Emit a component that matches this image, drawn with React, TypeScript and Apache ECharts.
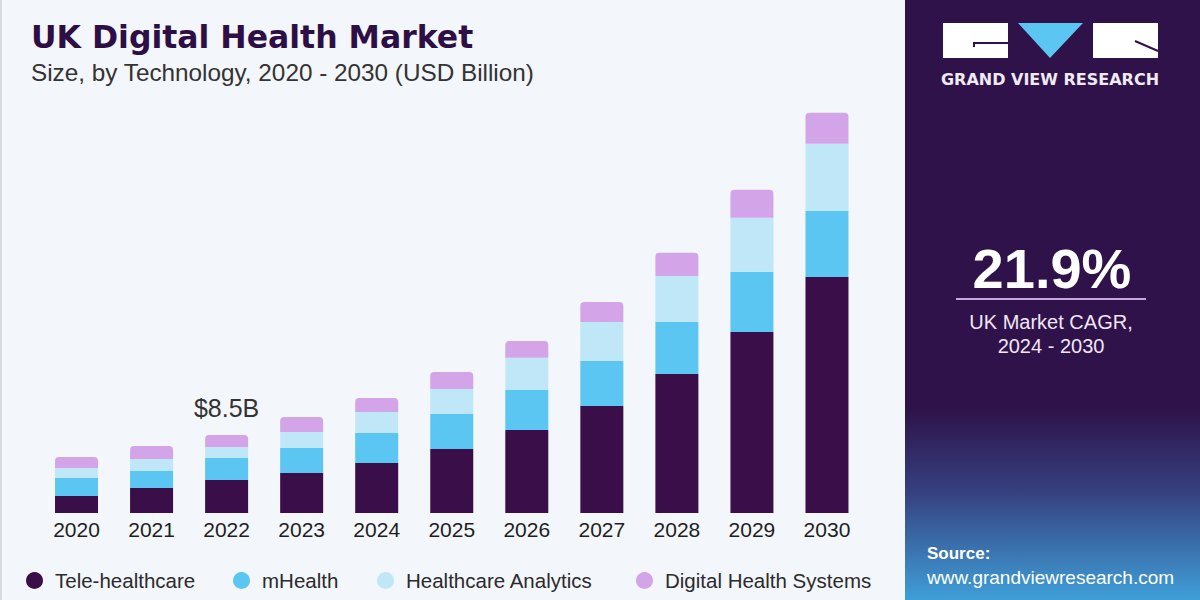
import React, { useEffect, useRef } from "react";
import * as echarts from "echarts";

const years = ["2020", "2021", "2022", "2023", "2024", "2025", "2026", "2027", "2028", "2029", "2030"];
const teleHealthcare = [1.85, 2.72, 3.6, 4.36, 5.45, 6.97, 9.05, 11.66, 15.15, 19.73, 25.72];
const mHealth = [1.96, 1.85, 2.4, 2.72, 3.27, 3.81, 4.36, 4.9, 5.67, 6.54, 7.19];
const healthcareAnalytics = [1.09, 1.31, 1.2, 1.74, 2.29, 2.72, 3.49, 4.25, 5.01, 5.88, 7.3];
const digitalHealthSystems = [1.2, 1.42, 1.31, 1.63, 1.53, 1.85, 1.85, 2.18, 2.51, 3.05, 3.38];
const seriesNames = ["Tele-healthcare", "mHealth", "Healthcare Analytics", "Digital Health Systems"];
const seriesColors = ["#3a0e48", "#5bc6f1", "#bfe7f8", "#d3a5e8"];
const annotatedIndex = 2;
const annotationText = "$8.5B";
const cagrValue = "21.9%";

const FONT = "'Liberation Sans', Arial, sans-serif";

export default function App() {
  const ref = useRef<HTMLDivElement>(null);
  useEffect(() => {
    if (!ref.current) return;
    const chart = echarts.init(ref.current, undefined, { renderer: "svg" });
    const allData = [teleHealthcare, mHealth, healthcareAnalytics, digitalHealthSystems];
    const series = allData.map((d, i) => ({
      name: seriesNames[i],
      type: "bar",
      stack: "total",
      barWidth: 43,
      itemStyle: {
        color: seriesColors[i],
        borderRadius: i === 3 ? [4, 4, 0, 0] : 0,
      },
      data: d.map((v, j) =>
        i === 3 && j === annotatedIndex
          ? {
              value: v,
              label: {
                show: true,
                position: "top",
                distance: 14,
                formatter: annotationText,
                fontSize: 25,
                color: "#333333",
                fontFamily: FONT,
              },
            }
          : v
      ),
    }));
    const legendLefts = [21, 228, 372, 631];
    const legends = seriesNames.map((n, i) => ({
      data: [n],
      left: legendLefts[i],
      top: 565,
      icon: "circle",
      itemWidth: 17,
      itemHeight: 17,
      textStyle: {
        fontSize: 20.5,
        color: "#2b2b2b",
        fontFamily: FONT,
        padding: [0, 0, 0, 7],
      },
    }));
    chart.setOption({
      animation: false,
      backgroundColor: "#f3f6fa",
      grid: { left: 39, right: 335.5, top: 54, bottom: 87 },
      legend: legends,
      xAxis: {
        type: "category",
        data: years,
        axisLine: { show: false },
        axisTick: { show: false },
        axisLabel: { fontSize: 21, color: "#1e1e1e", margin: 6, fontFamily: FONT },
      },
      yAxis: { type: "value", min: 0, max: 50, show: false, splitLine: { show: false } },
      series,
      graphic: [
        { type: "rect", shape: { x: 0, y: 0, width: 2, height: 600 }, style: { fill: "#d8dbe0" } },
        {
          type: "text",
          left: 31,
          top: 21,
          style: { text: "UK Digital Health Market", fontSize: 31.5, fontWeight: "bold", fill: "#2d0f45", fontFamily: "'DejaVu Sans', sans-serif" },
        },
        {
          type: "text",
          left: 31,
          top: 60,
          style: { text: "Size, by Technology, 2020 - 2030 (USD Billion)", fontSize: 24.3, fill: "#333333", fontFamily: FONT },
        },
        {
          type: "rect",
          shape: { x: 905, y: 0, width: 295, height: 600 },
          style: {
            fill: new echarts.graphic.LinearGradient(0, 0, 0, 1, [
              { offset: 0, color: "#2e1249" },
              { offset: 0.68, color: "#2e1249" },
              { offset: 0.82, color: "#36407f" },
              { offset: 1, color: "#3f9fd8" },
            ]),
          },
        },
        { type: "rect", shape: { x: 943, y: 23, width: 65, height: 35 }, style: { fill: "#ffffff" } },
        { type: "polyline", shape: { points: [[974, 47], [974, 43], [1008, 43]] }, style: { stroke: "#2e1249", lineWidth: 2, fill: null } },
        { type: "polygon", shape: { points: [[1018, 23], [1083, 23], [1050, 58]] }, style: { fill: "#5bc6f1" } },
        { type: "rect", shape: { x: 1093, y: 23, width: 65, height: 35 }, style: { fill: "#ffffff" } },
        { type: "line", shape: { x1: 1135, y1: 41, x2: 1158, y2: 51 }, style: { stroke: "#2e1249", lineWidth: 2 } },
        {
          type: "text",
          x: 1050,
          y: 79,
          style: {
            text: "GRAND VIEW RESEARCH",
            fontSize: 16,
            fontWeight: "bold",
            fill: "#f0eaf5",
            fontFamily: "'DejaVu Sans', sans-serif",
            align: "center",
            verticalAlign: "middle",
          },
        },
        {
          type: "text",
          x: 1052,
          y: 268,
          style: {
            text: cagrValue,
            fontSize: 56,
            fontWeight: "bold",
            fill: "#ffffff",
            fontFamily: FONT,
            align: "center",
            verticalAlign: "middle",
          },
        },
        { type: "line", shape: { x1: 956, y1: 299, x2: 1146, y2: 299 }, style: { stroke: "#c9a6e0", lineWidth: 2 } },
        {
          type: "text",
          x: 1051,
          y: 322,
          style: { text: "UK Market CAGR,", fontSize: 20, fill: "#f1e6f7", fontFamily: FONT, align: "center", verticalAlign: "middle" },
        },
        {
          type: "text",
          x: 1051,
          y: 346,
          style: { text: "2024 - 2030", fontSize: 20, fill: "#f1e6f7", fontFamily: FONT, align: "center", verticalAlign: "middle" },
        },
        {
          type: "text",
          x: 927,
          y: 553,
          style: { text: "Source:", fontSize: 17, fontWeight: "bold", fill: "#ffffff", fontFamily: FONT, verticalAlign: "middle" },
        },
        {
          type: "text",
          x: 927,
          y: 577,
          style: { text: "www.grandviewresearch.com", fontSize: 19, fill: "#ffffff", fontFamily: FONT, verticalAlign: "middle" },
        },
      ],
    });
    return () => chart.dispose();
  }, []);
  return <div ref={ref} style={{ position: "fixed", left: 0, top: 0, width: 1200, height: 600 }} />;
}
